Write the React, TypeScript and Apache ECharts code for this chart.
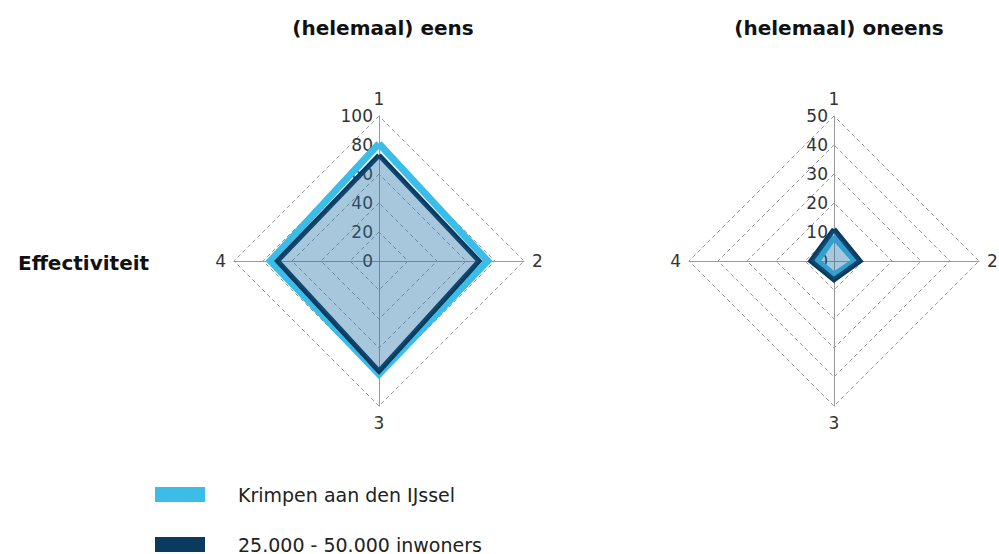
import React, { useEffect, useRef } from "react";
import * as echarts from "echarts";

const axes = ["1", "2", "3", "4"];
const seriesNames = ["Krimpen aan den IJssel", "25.000 - 50.000 inwoners"];
const eensKrimpen = [81, 75, 78, 75];
const eensInwoners = [73, 69, 76, 70];
const oneensKrimpen = [8.5, 7.5, 5, 6];
const oneensInwoners = [11, 9, 6.5, 8];
const panelTitles = ["(helemaal) eens", "(helemaal) oneens"];
const rowLabel = "Effectiviteit";
const maxValues = [100, 50];

const FONT = "DejaVu Sans";
const LIGHT = "#3bbde8";
const DARK = "#0b3a5f";

// ECharts lays indicators counter-clockwise from the top: reorder to 1,4,3,2
const order = [0, 3, 2, 1];
const reorder = (arr: number[]) => order.map((i) => arr[i]);

export default function App() {
  const ref = useRef<HTMLDivElement>(null);
  useEffect(() => {
    if (!ref.current) return;
    const chart = echarts.init(ref.current, null, { renderer: "svg" });
    const makeRadar = (center: number[], max: number) => ({
      center,
      radius: 145,
      startAngle: 90,
      shape: "polygon",
      splitNumber: 5,
      indicator: order.map((i, k) => ({
        name: axes[i],
        min: 0,
        max,
        axisLabel: k === 0 ? { show: true } : undefined,
      })),
      axisName: { color: "#333", fontSize: 17, fontFamily: FONT },
      nameGap: 8,
      axisLine: { lineStyle: { color: "#999", width: 1 } },
      axisTick: { show: false },
      axisLabel: { show: false, color: "#333", fontSize: 17, fontFamily: FONT, margin: 6 },
      splitLine: { lineStyle: { color: "#999", type: [4, 3], width: 1 } },
      splitArea: { show: false },
    });
    const makeItems = (a: number[], b: number[]) => [
      {
        name: seriesNames[0],
        value: reorder(a),
        itemStyle: { color: LIGHT },
        lineStyle: { color: LIGHT, width: 7, join: "miter" },
        areaStyle: { color: "rgba(59,189,232,0.18)" },
      },
      {
        name: seriesNames[1],
        value: reorder(b),
        itemStyle: { color: DARK },
        lineStyle: { color: DARK, width: 5, join: "miter" },
        areaStyle: { color: "rgba(30,100,150,0.45)" },
      },
    ];
    const legendBase = {
      orient: "vertical",
      left: 155,
      icon: "rect",
      itemWidth: 50,
      itemHeight: 15,
      padding: 0,
      textStyle: {
        fontSize: 19,
        lineHeight: 18,
        color: "#222",
        fontFamily: FONT,
        padding: [0, 0, 0, 28],
      },
    };
    chart.setOption({
      animation: false,
      backgroundColor: "#fff",
      textStyle: { fontFamily: FONT },
      title: [
        {
          text: panelTitles[0],
          left: 378,
          top: 13,
          textAlign: "center",
          textStyle: { fontSize: 20, fontWeight: "bold", color: "#111", fontFamily: FONT },
        },
        {
          text: panelTitles[1],
          left: 834,
          top: 13,
          textAlign: "center",
          textStyle: { fontSize: 20, fontWeight: "bold", color: "#111", fontFamily: FONT },
        },
        {
          text: rowLabel,
          left: 13,
          top: 248,
          textStyle: { fontSize: 20, fontWeight: "bold", color: "#111", fontFamily: FONT },
        },
      ],
      legend: [
        { ...legendBase, top: 485, data: [seriesNames[0]] },
        { ...legendBase, top: 535, data: [seriesNames[1]] },
      ],
      radar: [makeRadar([379, 261], maxValues[0]), makeRadar([834, 261], maxValues[1])],
      series: [
        { type: "radar", radarIndex: 0, symbol: "none", data: makeItems(eensKrimpen, eensInwoners) },
        { type: "radar", radarIndex: 1, symbol: "none", data: makeItems(oneensKrimpen, oneensInwoners) },
      ],
    });
    return () => chart.dispose();
  }, []);
  return (
    <div
      ref={ref}
      style={{ position: "absolute", left: 0, top: 0, width: 999, height: 554 }}
    />
  );
}
